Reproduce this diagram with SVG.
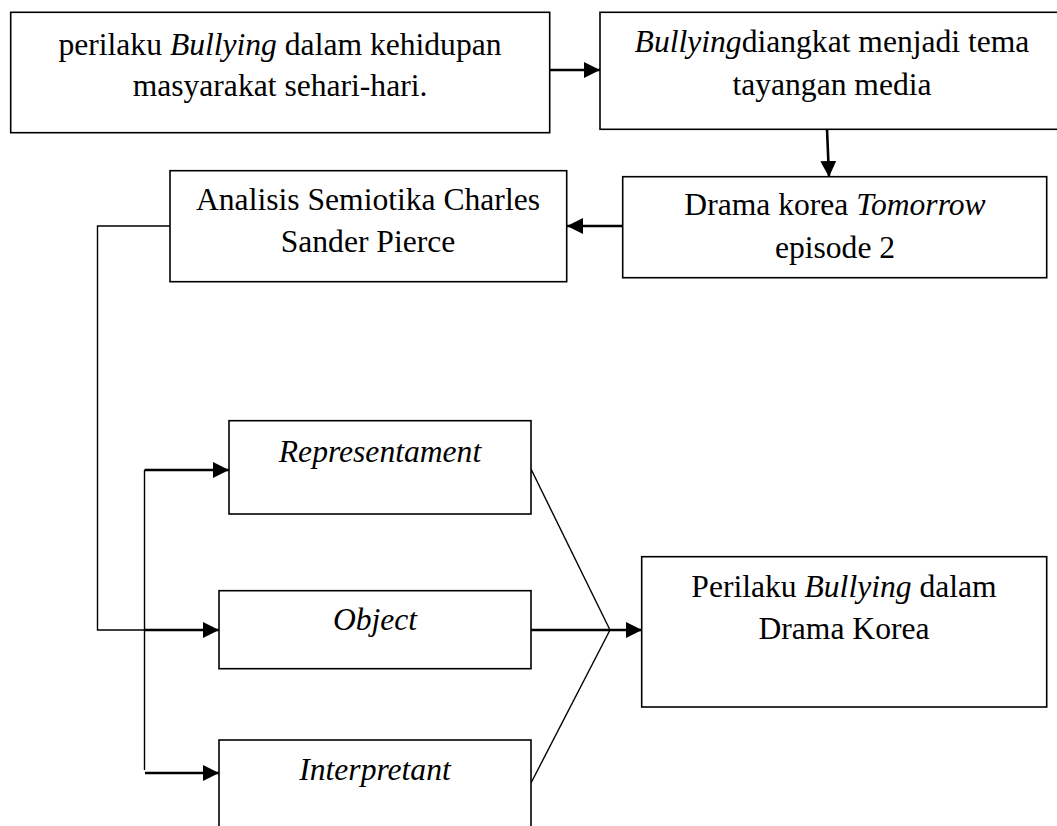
<svg xmlns="http://www.w3.org/2000/svg" width="1057" height="826" viewBox="0 0 1057 826">
<style>
.box{fill:#fff;stroke:#000;stroke-width:1.6}
.t{font-family:"Liberation Serif","Times New Roman",serif;font-size:31.6px;fill:#000;text-anchor:middle}
.i{font-style:italic}
.thin{fill:none;stroke:#000;stroke-width:1.4}
.arr{fill:none;stroke:#000;stroke-width:2.6;marker-end:url(#ah)}
</style>
<defs>
<marker id="ah" markerUnits="userSpaceOnUse" markerWidth="16" markerHeight="16" refX="16" refY="8" orient="auto">
<path d="M0,0 L16,8 L0,16 z" fill="#000"/>
</marker>
</defs>
<rect width="1057" height="826" fill="#fff"/>
<g id="connectors">
<line class="arr" x1="550" y1="70" x2="600" y2="70"/>
<line class="arr" x1="827" y1="129" x2="829" y2="177"/>
<line class="arr" x1="623" y1="226" x2="567" y2="226"/>
<polyline class="thin" points="170,226 97.5,226 97.5,630 145,630"/>
<line class="arr" x1="145" y1="630" x2="219" y2="630"/>
<line class="thin" x1="144.5" y1="470" x2="144.5" y2="770"/>
<line class="arr" x1="144.5" y1="470" x2="229" y2="470"/>
<line class="arr" x1="145" y1="773" x2="219" y2="773"/>
<line class="thin" x1="531" y1="469" x2="610" y2="630"/>
<line class="thin" x1="610" y1="630" x2="531" y2="783"/>
<line class="arr" x1="531" y1="630" x2="642" y2="630"/>
</g>
<g id="n1">
<rect class="box" x="10.7" y="12.3" width="539" height="120.4"/>
<text class="t" x="280" y="55">perilaku <tspan class="i">Bullying</tspan> dalam kehidupan</text>
<text class="t" x="280" y="96">masyarakat sehari-hari.</text>
</g>
<g id="n2">
<rect class="box" x="600" y="12.3" width="470" height="117"/>
<text class="t" x="832" y="52"><tspan class="i">Bullying</tspan>diangkat menjadi tema</text>
<text class="t" x="832" y="95">tayangan media</text>
</g>
<g id="n3">
<rect class="box" x="622.7" y="176.7" width="424" height="101"/>
<text class="t" x="835" y="215">Drama korea <tspan class="i">Tomorrow</tspan></text>
<text class="t" x="835" y="258">episode 2</text>
</g>
<g id="n4">
<rect class="box" x="170" y="170.7" width="396.7" height="111"/>
<text class="t" x="368" y="210">Analisis Semiotika Charles</text>
<text class="t" x="368" y="252">Sander Pierce</text>
</g>
<g id="n5">
<rect class="box" x="229" y="420.7" width="302" height="93.3"/>
<text class="t i" x="380" y="462">Representament</text>
</g>
<g id="n6">
<rect class="box" x="219" y="590.7" width="312" height="78"/>
<text class="t i" x="375" y="630">Object</text>
</g>
<g id="n7">
<rect class="box" x="219" y="740" width="312" height="110"/>
<text class="t i" x="375" y="780">Interpretant</text>
</g>
<g id="n8">
<rect class="box" x="641.7" y="556.7" width="405" height="150.3"/>
<text class="t" x="844" y="597">Perilaku <tspan class="i">Bullying</tspan> dalam</text>
<text class="t" x="844" y="639">Drama Korea</text>
</g>
</svg>
